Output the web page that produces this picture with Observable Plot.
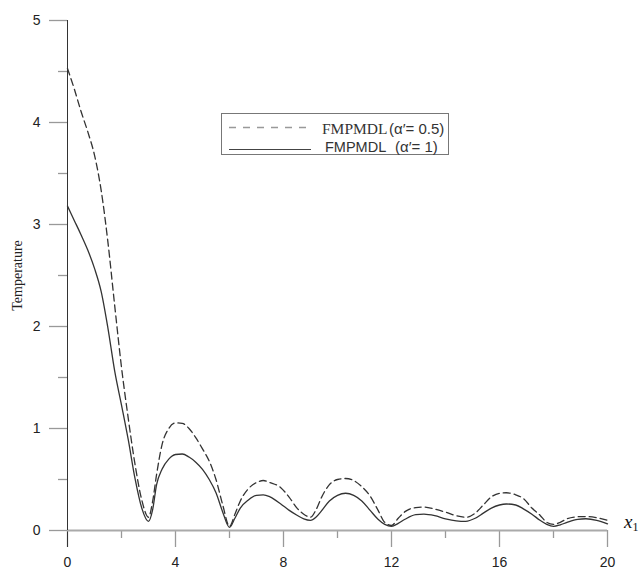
<!DOCTYPE html>
<html><head><meta charset="utf-8">
<script src="https://cdn.jsdelivr.net/npm/d3@7"></script>
<script src="https://cdn.jsdelivr.net/npm/@observablehq/plot@0.6"></script>
<style>
body{margin:0;background:#fff;}
#wrap{position:relative;width:639px;height:569px;overflow:hidden;}
</style></head><body><div id="wrap"></div>
<script>
const xs = [0,0.25,0.5,0.75,1,1.25,1.5,1.75,2,2.25,2.5,2.75,3,3.15,3.3,3.5,3.75,4,4.25,4.5,4.75,5,5.25,5.5,5.75,6,6.2,6.4,6.7,7,7.25,7.5,7.9,8.2,8.5,8.75,9,9.2,9.4,9.7,10,10.3,10.6,10.9,11.2,11.5,11.75,12,12.25,12.5,12.9,13.2,13.6,14,14.4,14.75,15.1,15.4,15.7,16,16.25,16.6,16.9,17.2,17.5,17.75,18,18.25,18.5,18.9,19.2,19.6,20];
const tempAlpha1 = [3.18,3.04,2.9,2.75,2.57,2.34,1.98,1.56,1.23,0.89,0.51,0.22,0.09,0.2,0.45,0.6,0.7,0.745,0.75,0.72,0.67,0.6,0.5,0.37,0.18,0.03,0.12,0.22,0.3,0.345,0.35,0.33,0.26,0.2,0.15,0.115,0.1,0.13,0.19,0.29,0.345,0.365,0.345,0.29,0.2,0.11,0.06,0.04,0.07,0.11,0.155,0.16,0.145,0.115,0.095,0.09,0.12,0.17,0.22,0.25,0.26,0.25,0.21,0.16,0.1,0.06,0.04,0.055,0.08,0.11,0.115,0.1,0.065];
const tempAlpha05 = [4.53,4.33,4.11,3.91,3.68,3.33,2.82,2.2,1.6,1.1,0.65,0.3,0.13,0.28,0.55,0.84,1.0,1.055,1.05,1.0,0.91,0.8,0.68,0.5,0.25,0.04,0.16,0.29,0.41,0.47,0.49,0.47,0.42,0.33,0.22,0.16,0.13,0.2,0.32,0.45,0.5,0.51,0.49,0.43,0.34,0.2,0.08,0.05,0.12,0.185,0.225,0.23,0.21,0.18,0.145,0.13,0.17,0.25,0.33,0.365,0.37,0.35,0.31,0.22,0.15,0.08,0.06,0.08,0.115,0.135,0.137,0.125,0.1];
const yMajorTicks = [0,1,2,3,4,5];
const yMinorTicks = [0.5,1.5,2.5,3.5,4.5];
const xMajorTicks = [0,4,8,12,16,20];
const xMinorTicks = [2,6,10,14,18];
const yTitle = "Temperature";
const xTitle = "x";
const xTitleSub = "1";
const legendName = "FMPMDL";
const legendParam05 = "(α′= 0.5)";
const legendName1 = "FMPMDL";
const legendParam1 = "(α′= 1)";

const solid = xs.map((x, i) => ({x, y: tempAlpha1[i]}));
const dashed = xs.map((x, i) => ({x, y: tempAlpha05[i]}));
const blank = () => "";
const intFmt = d => String(d);
const SERIF = "'Liberation Serif', 'Times New Roman', serif";
const SANS = "'Liberation Sans', Arial, sans-serif";

const chart = Plot.plot({
  width: 639, height: 569,
  marginLeft: 67, marginRight: 32, marginTop: 20, marginBottom: 39,
  style: {fontFamily: SANS, fontSize: "14px", color: "#222", background: "#fff", overflow: "visible"},
  x: {domain: [0, 20]},
  y: {domain: [0, 5]},
  marks: [
    Plot.axisY(yMinorTicks, {tickSize: 9, tickFormat: blank, stroke: "#999", strokeWidth: 1.3, label: null}),
    Plot.axisY(yMajorTicks, {tickSize: 18, tickPadding: 9, tickFormat: intFmt, stroke: "#999", strokeWidth: 1.3, fill: "#222", label: null}),
    Plot.axisX(xMinorTicks, {tickSize: 8, tickFormat: blank, stroke: "#999", strokeWidth: 1.3, label: null}),
    Plot.axisX(xMajorTicks, {tickSize: 17, tickPadding: 10, tickFormat: intFmt, stroke: "#999", strokeWidth: 1.3, fill: "#222", label: null}),
    Plot.axisX([0], {tickSize: 17, tickFormat: blank, stroke: "#333", strokeWidth: 1, label: null}),
    Plot.ruleY([0], {stroke: "#aaa", strokeWidth: 2}),
    Plot.ruleX([0], {y1: 0, y2: 5, stroke: "#333", strokeWidth: 1}),
    Plot.line(dashed, {x: "x", y: "y", curve: "monotone-x", stroke: "#333", strokeWidth: 1.3, strokeDasharray: "7,4"}),
    Plot.line(solid, {x: "x", y: "y", curve: "monotone-x", stroke: "#333", strokeWidth: 1.3}),
    Plot.text([yTitle], {frameAnchor: "left", dx: -50, rotate: -90, fontFamily: SERIF, fontSize: 14, fill: "#222", textAnchor: "middle", lineAnchor: "middle"})
  ]
});
document.getElementById("wrap").appendChild(chart);

const svg = d3.select(chart);
// x1 label
const xl = svg.append("text").attr("x", 624).attr("y", 528).attr("text-anchor", "start")
  .style("font-family", SERIF).attr("fill", "#111");
xl.append("tspan").style("font-style", "italic").style("font-size", "19px").text(xTitle);
xl.append("tspan").style("font-size", "12px").attr("dy", 3).text(xTitleSub);

// legend
const lg = svg.append("g").attr("text-anchor", "start");
lg.append("rect").attr("x", 221.5).attr("y", 113.5).attr("width", 227).attr("height", 41)
  .attr("fill", "#fff").attr("stroke", "#777").attr("stroke-width", 1);
lg.append("line").attr("x1", 229).attr("x2", 311).attr("y1", 127.5).attr("y2", 127.5)
  .attr("stroke", "#999").attr("stroke-width", 1.3).attr("stroke-dasharray", "7,7");
lg.append("line").attr("x1", 229).attr("x2", 311).attr("y1", 149.5).attr("y2", 149.5)
  .attr("stroke", "#444").attr("stroke-width", 1.1);
lg.append("text").attr("x", 322).attr("y", 133.5).attr("fill", "#333")
  .style("font-family", SERIF).style("font-size", "15.5px").text(legendName);
lg.append("text").attr("x", 389).attr("y", 133.5).attr("fill", "#333")
  .style("font-family", SANS).style("font-size", "15px").text(legendParam05);
lg.append("text").attr("x", 325).attr("y", 151.5).attr("fill", "#333")
  .style("font-family", SANS).style("font-size", "14.5px").text(legendName1);
lg.append("text").attr("x", 395).attr("y", 151.5).attr("fill", "#333")
  .style("font-family", SANS).style("font-size", "15px").text(legendParam1);
</script></body></html>
